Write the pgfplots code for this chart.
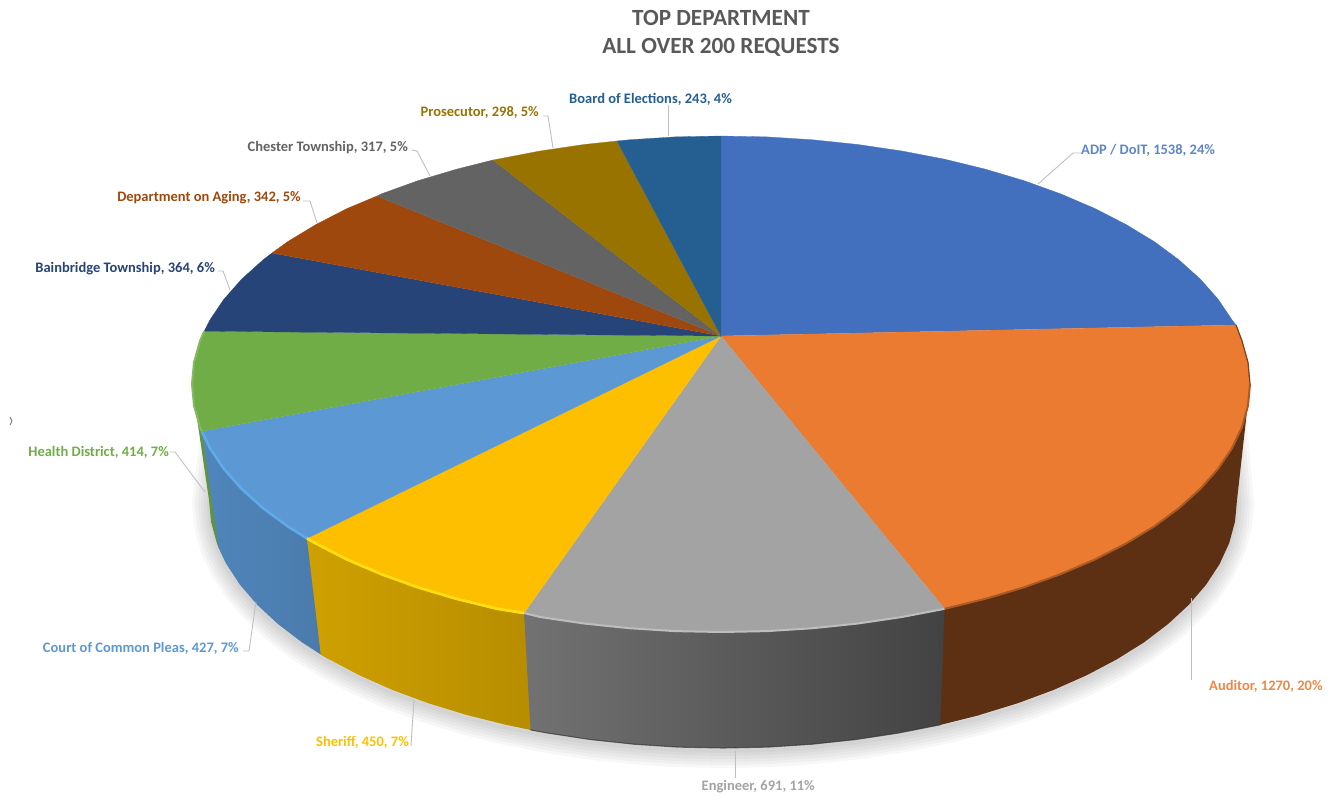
\documentclass[border=0pt]{standalone}
\usepackage{pgfplots}
\pgfplotsset{compat=1.18}
\usepackage{fontspec}
\setmainfont{Carlito}
\definecolor{cADP}{HTML}{4270BF}
\definecolor{cAud}{HTML}{EB7B30}
\definecolor{cEng}{HTML}{A3A3A3}
\definecolor{cShe}{HTML}{FDBF00}
\definecolor{cCou}{HTML}{5B98D4}
\definecolor{cHea}{HTML}{70AD47}
\definecolor{cBai}{HTML}{264478}
\definecolor{cAgi}{HTML}{9E480E}
\definecolor{cChe}{HTML}{636363}
\definecolor{cPro}{HTML}{997300}
\definecolor{cBoE}{HTML}{255E91}
\definecolor{gL}{HTML}{727272}\definecolor{gR}{HTML}{3E3E3E}
\definecolor{yL}{HTML}{CFA000}\definecolor{yR}{HTML}{B58C00}
\definecolor{bL}{HTML}{5086BC}\definecolor{bR}{HTML}{4A7AAB}
\definecolor{leader}{HTML}{BFBFBF}
\newcommand\leaderline[1]{\addplot[leader,line width=.9pt] coordinates {#1};}
\newcommand\lab[4]{\node[anchor=#1,inner sep=0pt,text=#2,font=\fontsize{14.5}{17}\selectfont\bfseries] at (axis cs:#3) {#4};}
\pgfplotstableread{
x y
1228 400
1237 500
1235 521.6
1229.2 543.1
1219.5 564.2
1206 584.8
1188.8 604.8
1168.1 624
1144.1 642.3
1116.7 659.4
1086.4 675.4
1053.4 690
1017.8 703.2
980 714.8
940.2 724.8
898.8 733
856 739.5
812.2 744.2
767.8 747.1
723 748
678.2 747.1
633.8 744.2
590 739.5
547.2 733
505.8 724.8
466 714.8
428.2 703.2
392.6 690
359.6 675.4
329.3 659.4
301.9 642.3
277.9 624
257.2 604.8
240 584.8
226.5 564.2
216.8 543.1
211 521.6
209 500
221 400
}\shadowtab
\newcommand\shadowlayer[1]{\addplot[draw=black,draw opacity=.03,line width=#1pt,line join=round,yshift=-3pt] table[x=x,y=y] {\shadowtab};}
\begin{document}
\begin{tikzpicture}
\useasboundingbox (0,0) rectangle (1335pt,795pt);
\begin{axis}[at={(0,0)},anchor=south west,scale only axis,width=1335pt,height=795pt,
  xmin=0,xmax=1335,ymin=0,ymax=795,y dir=reverse,hide axis,clip=false,no markers]
% soft shadow
\shadowlayer{34}\shadowlayer{28}\shadowlayer{22}\shadowlayer{16}\shadowlayer{10}\shadowlayer{4}
% ---- side walls
% Health District
\addplot[fill=cHea!85!black,draw=none] coordinates {(192,384)(194,405.6)(200,427.1)(201.7,431.3)(210,448.2)(226.5,564.2)(218.5,547.3)(216.8,543.1)(211,521.6)(209,500)};
% Court of Common Pleas
\addplot[left color=bL,right color=bR,draw=none] coordinates {(201.7,431.3)(210,448.2)(223.9,468.8)(241.6,488.8)(262.9,508)(287.6,526.3)(307,538.4)(315.8,543.4)(329.3,659.4)(320.7,654.4)(301.9,642.3)(277.9,624)(257.2,604.8)(240,584.8)(226.5,564.2)(218.5,547.3)};
% Sheriff
\addplot[left color=yL,right color=yR,draw=none] coordinates {(307,538.4)(315.8,543.4)(346.9,559.4)(381,574)(417.6,587.2)(456.5,598.8)(497.4,608.8)(524,613)(540.1,617)(547.2,733)(530.5,729.9)(505.8,724.8)(466,714.8)(428.2,703.2)(392.6,690)(359.6,675.4)(329.3,659.4)(320.7,654.4)};
% Engineer
\addplot[left color=gL,right color=gR,draw=none] coordinates {(524,613)(540.1,617)(584.1,623.5)(629.2,628.2)(674.9,631.1)(721,632)(767.1,631.1)(812.8,628.2)(857.9,623.5)(901.9,617)(944.6,608.8)(985.5,598.8)(980,714.8)(940.2,724.8)(898.8,733)(856,739.5)(812.2,744.2)(767.8,747.1)(723,748)(678.2,747.1)(633.8,744.2)(590,739.5)(547.2,733)(530.5,729.9)};
\addplot[color=gR!85!black,draw opacity=.7,line width=1.1pt] coordinates {(530.5,729.9)(547.2,733)(590,739.5)(633.8,744.2)(678.2,747.1)(723,748)(767.8,747.1)(812.2,744.2)(856,739.5)(898.8,733)(940.2,724.8)};
% Auditor
\addplot[fill={rgb,255:red,94;green,48;blue,19},draw=none] coordinates {(1250,384)(1248,405.6)(1242,427.1)(1232,448.2)(1218.1,468.8)(1200.4,488.8)(1179.1,508)(1154.4,526.3)(1126.2,543.4)(1095.1,559.4)(1061,574)(1024.4,587.2)(985.5,598.8)(944.6,608.8)(940.2,724.8)(980,714.8)(1017.8,703.2)(1053.4,690)(1086.4,675.4)(1116.7,659.4)(1144.1,642.3)(1168.1,624)(1188.8,604.8)(1206,584.8)(1219.5,564.2)(1229.2,543.1)(1235,521.6)(1237,500)};
% ---- top faces
\addplot[fill=cADP,draw=cADP,line width=.3pt] coordinates {(721,336)(721,136)(767.1,136.9)(812.8,139.8)(857.9,144.5)(901.9,151)(944.6,159.2)(985.5,169.2)(1024.4,180.8)(1061,194)(1095.1,208.6)(1126.2,224.6)(1154.4,241.7)(1179.1,260)(1200.4,279.2)(1218.1,299.2)(1232,319.8)(1236,325)};
\addplot[fill=cAud,draw=cAud,line width=.3pt] coordinates {(721,336)(1236,325)(1242,340.9)(1248,362.4)(1250,384)(1248,405.6)(1242,427.1)(1232,448.2)(1218.1,468.8)(1200.4,488.8)(1179.1,508)(1154.4,526.3)(1126.2,543.4)(1095.1,559.4)(1061,574)(1024.4,587.2)(985.5,598.8)(944.6,608.8)};
\addplot[fill=cEng,draw=cEng,line width=.3pt] coordinates {(721,336)(944.6,608.8)(901.9,617)(857.9,623.5)(812.8,628.2)(767.1,631.1)(721,632)(674.9,631.1)(629.2,628.2)(584.1,623.5)(540.1,617)(524,613)};
\addplot[fill=cShe,draw=cShe,line width=.3pt] coordinates {(721,336)(524,613)(497.4,608.8)(456.5,598.8)(417.6,587.2)(381,574)(346.9,559.4)(315.8,543.4)(307,538.4)};
\addplot[fill=cCou,draw=cCou,line width=.3pt] coordinates {(721,336)(307,538.4)(287.6,526.3)(262.9,508)(241.6,488.8)(223.9,468.8)(210,448.2)(201.7,431.3)};
\addplot[fill=cHea,draw=cHea,line width=.3pt] coordinates {(721,336)(201.7,431.3)(200,427.1)(194,405.6)(192,384)(194,362.4)(200,340.9)(204.2,331.2)};
\addplot[fill=cBai,draw=cBai,line width=.3pt] coordinates {(721,336)(204.2,331.2)(210,319.8)(223.9,299.2)(241.6,279.2)(262.9,260)(272,253)};
\addplot[fill=cAgi,draw=cAgi,line width=.3pt] coordinates {(721,336)(272,253)(287.6,241.7)(315.8,224.6)(346.9,208.6)(377,196)};
\addplot[fill=cChe,draw=cChe,line width=.3pt] coordinates {(721,336)(377,196)(381,194)(417.6,180.8)(456.5,169.2)(493,160)};
\addplot[fill=cPro,draw=cPro,line width=.3pt] coordinates {(721,336)(493,160)(497.4,159.2)(540.1,151)(584.1,144.5)(617,141)};
\addplot[fill=cBoE,draw=cBoE,line width=.3pt] coordinates {(721,336)(617,141)(629.2,139.8)(674.9,136.9)(721,136)};
% ---- bevel along the rim
\addplot[color=cHea!85!white,line width=2pt] coordinates {(201.7,431.3)(200,427.1)(194,405.6)(192,384)(194,362.4)(200,340.9)(204.2,331.2)};
\addplot[color={rgb,255:red,95;green,170;blue,232},line width=2.6pt] coordinates {(201.7,431.3)(210,448.2)(223.9,468.8)(241.6,488.8)(262.9,508)(287.6,526.3)(307,538.4)};
\addplot[color={rgb,255:red,255;green,222;blue,16},line width=2.8pt] coordinates {(307,538.4)(315.8,543.4)(346.9,559.4)(381,574)(417.6,587.2)(456.5,598.8)(497.4,608.8)(524,613)};
\addplot[color={rgb,255:red,190;green,190;blue,190},line width=2pt] coordinates {(524,613)(540.1,617)(584.1,623.5)(629.2,628.2)(674.9,631.1)(721,632)(767.1,631.1)(812.8,628.2)(857.9,623.5)(901.9,617)(944.6,608.8)};
\addplot[color={rgb,255:red,170;green,90;blue,36},line width=2pt] coordinates {(944.6,608.8)(985.5,598.8)(1024.4,587.2)(1061,574)(1095.1,559.4)(1126.2,543.4)(1154.4,526.3)(1179.1,508)(1200.4,488.8)(1218.1,468.8)(1232,448.2)(1242,427.1)(1248,405.6)(1250,384)};
\addplot[color={rgb,255:red,120;green,66;blue,30},line width=1.2pt] coordinates {(1250,384)(1248,362.4)(1242,340.9)(1236,325)};
% ---- leader lines
\leaderline{(1038,184)(1073,153)(1081,153)}
\leaderline{(1191,598)(1191,680)}
\leaderline{(735,751)(735,778)}
\leaderline{(414,700)(411,746)}
\leaderline{(256,602)(249,651)(243,651)}
\leaderline{(170,452)(175,452)(205,492)}
\leaderline{(218,271)(223,271)(230,290)}
\leaderline{(303,201)(310,201)(317,223)}
\leaderline{(412,150)(417,151)(430,176)}
\leaderline{(543,116)(548,116)(553,148)}
\leaderline{(668,105)(668,136)}
\addplot[color=gray,line width=.9pt] coordinates {(10,417)(12,421)(10,425)};
% ---- labels
\lab{west}{cADP!85!white}{1081,150}{ADP / DoIT, 1538, 24\%}
\lab{west}{cAud!90!white}{1209,686}{Auditor, 1270, 20\%}
\lab{east}{cEng}{815,787}{Engineer, 691, 11\%}
\lab{east}{cShe}{409,742}{Sheriff, 450, 7\%}
\lab{east}{cCou}{239,648}{Court of Common Pleas, 427, 7\%}
\lab{east}{cHea}{169,452}{Health District, 414, 7\%}
\lab{east}{cBai}{215,269}{Bainbridge Township, 364, 6\%}
\lab{east}{cAgi}{301,198}{Department on Aging, 342, 5\%}
\lab{east}{cChe}{408,148}{Chester Township, 317, 5\%}
\lab{east}{cPro}{539,112}{Prosecutor, 298, 5\%}
\lab{east}{cBoE}{732,99}{Board of Elections, 243, 4\%}
% ---- title
\node[text={rgb,255:red,89;green,89;blue,89},font=\fontsize{23.2}{28}\selectfont\bfseries,align=center,inner sep=0pt] at (axis cs:721,33) {TOP DEPARTMENT\\ALL OVER 200 REQUESTS};
\end{axis}
\end{tikzpicture}
\end{document}
